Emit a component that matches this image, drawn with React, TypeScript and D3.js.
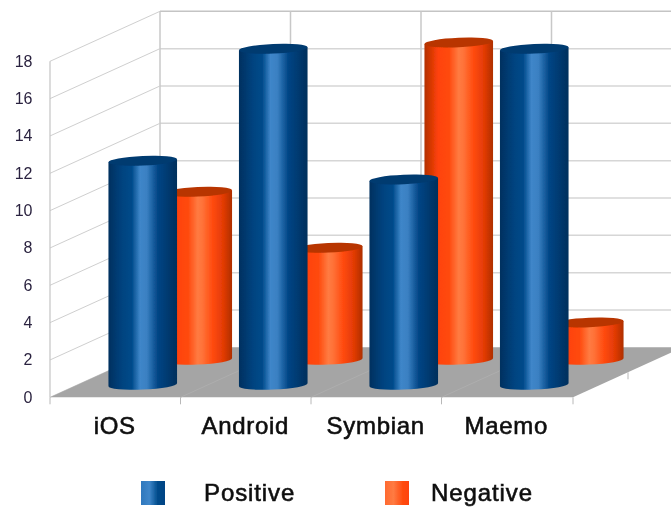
import { useEffect, useRef } from "react";
import * as d3 from "d3";

const categories = ["iOS", "Android", "Symbian", "Maemo"];
const positive = [12, 18, 11, 18];
const negative = [9, 6, 17, 2];
const valueTicks = [0, 2, 4, 6, 8, 10, 12, 14, 16, 18];
const seriesNames = ["Positive", "Negative"];

const width = 671;
const height = 508;

export default function App() {
	const svgRef = useRef<SVGSVGElement>(null);

	useEffect(() => {
		if (!svgRef.current) return;
		const svg = d3.select(svgRef.current);
		svg.selectAll("*").remove();

		// front plane of the box
		const x = d3.scaleBand().domain(categories).range([50, 572]);
		const y = d3.scaleLinear().domain([0, 18]).range([397.3, 61.3]);
		// how far a point sits towards the back wall, 0 = front, 1 = back
		const depthX = d3.scaleLinear().domain([0, 1]).range([0, 110]);
		const depthY = d3.scaleLinear().domain([0, 1]).range([0, -50]);
		const px = (v: number, z: number) => v + depthX(z);
		const py = (v: number, z: number) => y(v) + depthY(z);

		const defs = svg.append("defs");
		defs
			.append("filter")
			.attr("id", "soft")
			.attr("x", "-5%")
			.attr("y", "-5%")
			.attr("width", "110%")
			.attr("height", "110%")
			.append("feGaussianBlur")
			.attr("stdDeviation", 0.55);

		const gradient = (id: string, stops: [number, string][]) => {
			const g = defs.append("linearGradient").attr("id", id);
			stops.forEach(([o, c]) =>
				g.append("stop").attr("offset", o).attr("stop-color", c),
			);
		};
		gradient("blueBar", [
			[0, "#00305f"],
			[0.2, "#00437f"],
			[0.34, "#004a8a"],
			[0.46, "#3f86c9"],
			[0.56, "#3a80c2"],
			[0.72, "#004585"],
			[1, "#002f5c"],
		]);
		gradient("orangeBar", [
			[0, "#b33000"],
			[0.2, "#ff4209"],
			[0.36, "#ff4a0e"],
			[0.5, "#ff7b42"],
			[0.57, "#ff7238"],
			[0.72, "#ff4a0e"],
			[0.88, "#e03a05"],
			[1, "#ae2f00"],
		]);
		gradient("blueKey", [
			[0, "#2f78bd"],
			[0.35, "#3f86c9"],
			[0.7, "#004a8a"],
			[1, "#004485"],
		]);
		gradient("orangeKey", [
			[0, "#ff6a30"],
			[0.35, "#ff7b42"],
			[0.75, "#ff4a0e"],
			[1, "#ff4209"],
		]);

		const root = svg.append("g").attr("filter", "url(#soft)");

		root
			.append("rect")
			.attr("width", width)
			.attr("height", height)
			.attr("fill", "#ffffff");

		const grid = root.append("g").attr("fill", "none");

		// back wall
		grid
			.selectAll("line.back")
			.data(valueTicks.slice(1))
			.join("line")
			.attr("x1", px(50, 1))
			.attr("x2", width)
			.attr("y1", (d) => py(d, 1))
			.attr("y2", (d) => py(d, 1))
			.attr("stroke", (d) => (d === 18 ? "#c4c4c4" : "#d6d6d6"))
			.attr("stroke-width", 1.5);

		const edges = categories.map((c) => x(c) as number).concat(573);
		grid
			.selectAll("line.wall")
			.data(edges)
			.join("line")
			.attr("x1", (d) => px(d, 1))
			.attr("x2", (d) => px(d, 1))
			.attr("y1", py(0, 1))
			.attr("y2", py(18, 1))
			.attr("stroke", "#c8c8c8")
			.attr("stroke-width", 1.5);

		// side wall
		grid
			.selectAll("line.side")
			.data(valueTicks)
			.join("line")
			.attr("x1", px(50, 0))
			.attr("x2", px(50, 1))
			.attr("y1", (d) => py(d, 0))
			.attr("y2", (d) => py(d, 1))
			.attr("stroke", "#cfcfcf")
			.attr("stroke-width", 1);
		grid
			.append("line")
			.attr("x1", 50)
			.attr("x2", 50)
			.attr("y1", py(0, 0))
			.attr("y2", py(18, 0))
			.attr("stroke", "#c4c4c4")
			.attr("stroke-width", 1.2);

		// floor
		const floor = [
			[px(50, 0), py(0, 0)],
			[px(573, 0), py(0, 0)],
			[px(573, 1), py(0, 1)],
			[px(50, 1), py(0, 1)],
		] as [number, number][];
		root
			.append("path")
			.attr("d", d3.line()(floor) + "Z")
			.attr("fill", "#a5a5a5");
		root
			.append("g")
			.selectAll("line")
			.data(edges.slice(1, 4))
			.join("line")
			.attr("x1", (d) => px(d, 0))
			.attr("x2", (d) => px(d, 1))
			.attr("y1", py(0, 0))
			.attr("y2", py(0, 1))
			.attr("stroke", "#aeaeae")
			.attr("stroke-width", 1);

		// axis ticks
		const ticks = root.append("g").attr("stroke", "#b8b8b8").attr("stroke-width", 1);
		ticks
			.selectAll("line.front")
			.data(edges)
			.join("line")
			.attr("x1", (d) => d)
			.attr("x2", (d) => d)
			.attr("y1", py(0, 0))
			.attr("y2", py(0, 0) + 7);
		ticks
			.append("line")
			.attr("x1", px(573, 0.5))
			.attr("x2", px(573, 0.5))
			.attr("y1", py(0, 0.5))
			.attr("y2", py(0, 0.5) + 7);

		// cylinders
		const radiusX = 34.3;
		const radiusY = 4.8;
		const tilt = 1.5;
		const cylinder = (
			series: number[],
			z: number,
			fill: string,
			capFill: string,
		) => {
			const g = root.append("g");
			categories.forEach((c, i) => {
				const cx = px((x(c) as number) + x.bandwidth() / 2, z);
				const top = py(series[i], z);
				const bottom = py(0, z);
				const l = cx - radiusX;
				const r = cx + radiusX;
				const arc = `${radiusX} ${radiusY} -2.5`;
				g.append("path")
					.attr(
						"d",
						`M${l},${top + tilt}L${l},${bottom + tilt}A${arc} 0 0 ${r},${bottom - tilt}L${r},${top - tilt}Z`,
					)
					.attr("fill", `url(#${fill})`);
				g.append("path")
					.attr(
						"d",
						`M${l},${top + tilt}A${arc} 0 1 ${r},${top - tilt}A${arc} 0 1 ${l},${top + tilt}Z`,
					)
					.attr("fill", capFill);
			});
		};
		cylinder(negative, 0.75, "orangeBar", "#b83500");
		cylinder(positive, 0.25, "blueBar", "#003a70");

		// value labels
		root
			.append("g")
			.attr("font-family", "'Liberation Sans', sans-serif")
			.attr("font-size", 16)
			.attr("fill", "#2c2440")
			.attr("text-anchor", "end")
			.selectAll("text")
			.data(valueTicks)
			.join("text")
			.attr("x", 32.5)
			.attr("y", (d) => py(d, 0) + 5.5)
			.text((d) => d);

		// category labels
		root
			.append("g")
			.attr("font-family", "'Liberation Sans', sans-serif")
			.attr("font-size", 24)
			.attr("letter-spacing", 0.7)
			.attr("fill", "#111111")
			.attr("stroke", "#111111")
			.attr("stroke-width", 0.6)
			.attr("text-anchor", "middle")
			.selectAll("text")
			.data(categories)
			.join("text")
			.attr("x", (d) => (x(d) as number) + x.bandwidth() / 2 - 0.5)
			.attr("y", 434)
			.text((d) => d);

		// legend
		const legendX = d3.scaleOrdinal<string, number>().domain(seriesNames).range([141, 385]);
		const legendTextX = d3.scaleOrdinal<string, number>().domain(seriesNames).range([204, 431]);
		const legendFill = d3.scaleOrdinal<string, string>().domain(seriesNames).range(["blueKey", "orangeKey"]);
		const legend = root
			.append("g")
			.selectAll("g")
			.data(seriesNames)
			.join("g");
		legend
			.append("rect")
			.attr("x", (d) => legendX(d))
			.attr("y", 481)
			.attr("width", 24)
			.attr("height", 24)
			.attr("fill", (d) => `url(#${legendFill(d)})`);
		legend
			.append("text")
			.attr("x", (d) => legendTextX(d))
			.attr("y", 501)
			.attr("font-family", "'Liberation Sans', sans-serif")
			.attr("font-size", 24)
			.attr("letter-spacing", 0.9)
			.attr("fill", "#111111")
			.attr("stroke", "#111111")
			.attr("stroke-width", 0.6)
			.text((d) => d);
	}, []);

	return (
		<svg
			ref={svgRef}
			width={width}
			height={height}
			style={{ position: "absolute", left: 0, top: 0 }}
		/>
	);
}
